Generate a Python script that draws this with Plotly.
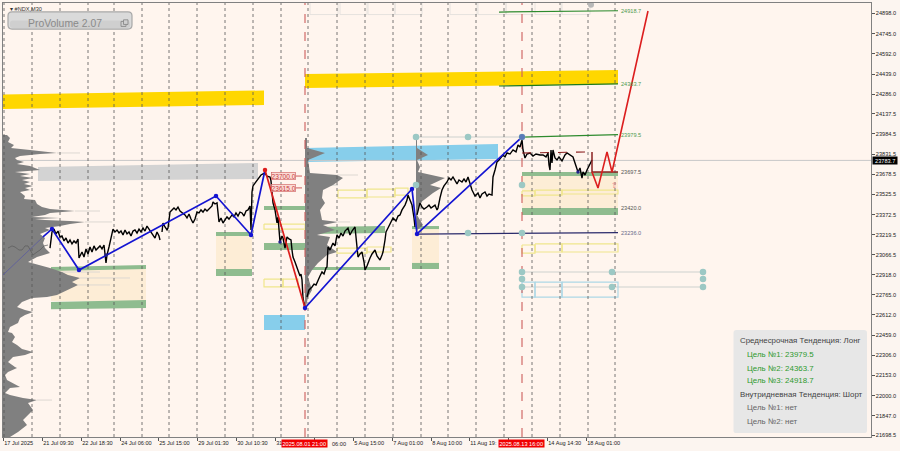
"""NDX M30 terminal chart with volume profiles, zones and target levels. x = position on the compressed bar axis."""
import plotly.graph_objects as go

BG = "#FFF5EE"
X_RANGE = [3, 871]
Y_RANGE = [21685.8, 24977.6]

Y_TICKS = [24898.0, 24745.0, 24592.0, 24439.0, 24286.0, 24137.5, 23984.5, 23831.5, 23678.5, 23525.5, 23372.5,
           23219.5, 23066.5, 22918.0, 22765.0, 22612.0, 22459.0, 22306.0, 22153.0, 22000.0, 21847.0, 21698.5]
X_TICKS = [3, 42, 81, 120, 158, 197, 236, 275, 314, 353, 392, 431, 469, 508, 547, 586]
# the flags hide the rest of "31 ...", "... 06:00", "11 Aug 19:..", and all of the 13 Aug label
X_LABELS = ["17 Jul 2025", "21 Jul 09:30", "22 Jul 18:30", "24 Jul 06:00", "25 Jul 15:00", "29 Jul 01:30",
            "30 Jul 10:30", "31", "", "5 Aug 15:00", "7 Aug 01:00", "8 Aug 10:00",
            "11 Aug 19:", "", "14 Aug 14:30", "18 Aug 01:00"]
GRID_X = [4, 32, 60, 88, 114, 142, 169, 197, 225, 253, 281, 308, 337, 365, 393, 421, 448, 476, 504, 532, 560, 588, 615]
SESSION_X = [305, 522]

# price line, four stretches
P1_X = [50, 52, 54, 56, 58, 60, 62, 64, 66, 68, 70, 72, 74, 76, 78, 79, 80, 82, 84, 86, 88, 90, 92, 94, 96, 98, 100,
        102, 104, 106, 107, 109, 111, 113, 115, 117, 119, 121, 123, 125, 127, 129, 131, 133, 135, 137, 139, 141, 143,
        145, 147, 149, 151, 153, 155, 157, 159, 160]
P1_Y = [23119, 23241, 23263, 23226, 23248, 23203, 23210, 23173, 23195, 23157, 23180, 23150, 23173, 23157, 23188, 23043,
        23059, 23089, 23051, 23112, 23074, 23127, 23089, 23135, 23104, 23119, 23135, 23112, 23142, 23006, 23066, 23127,
        23195, 23263, 23241, 23256, 23233, 23248, 23218, 23256, 23226, 23241, 23210, 23248, 23256, 23233, 23263, 23241,
        23271, 23248, 23286, 23263, 23241, 23218, 23195, 23241, 23210, 23180]
P2_X = [162, 163, 165, 167, 168, 170, 172, 174, 176, 178, 180, 182, 185, 187, 189, 191, 193, 195, 197, 199, 201, 203,
        205, 207, 210, 212, 213, 215, 217, 218, 219, 221, 223, 225, 227, 229, 232, 234, 236, 238, 240, 242, 244, 246,
        248, 250, 251, 252, 253, 255, 257, 259, 261, 263, 265, 267, 270, 271, 273, 275, 277, 278, 280, 282, 283, 285,
        287, 289, 291, 292, 293, 295, 297, 298, 300, 301, 302, 303, 305]
P2_Y = [23241, 23309, 23279, 23256, 23271, 23392, 23408, 23423, 23408, 23430, 23400, 23385, 23370, 23347, 23377, 23339,
        23309, 23339, 23392, 23385, 23408, 23392, 23415, 23400, 23423, 23438, 23468, 23453, 23461, 23408, 23317, 23347,
        23309, 23332, 23355, 23339, 23370, 23355, 23385, 23362, 23392, 23385, 23362, 23400, 23408, 23438, 23256, 23544,
        23590, 23612, 23635, 23658, 23673, 23681, 23688, 23665, 23658, 23628, 23461, 23408, 23309, 23355, 23165, 23210,
        23195, 23119, 23203, 23188, 23180, 23104, 23051, 23013, 22968, 22952, 22907, 22922, 22877, 22740, 22664]
P3_X = [307, 309, 312, 314, 316, 318, 320, 322, 324, 326, 327, 328, 330, 333, 335, 337, 339, 341, 343, 345, 348, 350,
        352, 355, 356, 357, 358, 360, 362, 364, 365, 367, 368, 370, 372, 375, 377, 380, 382, 383, 385, 386, 388, 390,
        393, 396, 398, 400, 402, 405, 407, 408, 410, 412, 414, 415]
P3_Y = [22748, 22801, 22824, 22846, 22839, 22877, 22907, 22937, 22922, 22968, 22975, 23127, 23104, 23157, 23135, 23218,
        23195, 23233, 23210, 23248, 23271, 23218, 23248, 23279, 23180, 23104, 23051, 23074, 23089, 23013, 22952, 22983,
        23006, 23043, 23074, 23104, 23059, 23028, 23066, 23089, 23180, 23241, 23271, 23301, 23347, 23324, 23362, 23370,
        23408, 23445, 23483, 23521, 23483, 23445, 23347, 23279]
P4_X = [417, 419, 420, 422, 424, 427, 429, 431, 433, 435, 437, 438, 440, 442, 444, 447, 449, 451, 453, 455, 457, 459,
        462, 464, 466, 468, 470, 472, 473, 475, 478, 480, 482, 485, 487, 489, 492, 493, 495, 497, 499, 501, 503, 505,
        507, 510, 513, 516, 518, 520, 522, 523, 525, 527, 530, 533, 536, 540, 543, 546, 548, 549, 550, 551, 552, 553,
        555, 557, 559, 562, 565, 567, 570, 573, 575, 577, 578, 580, 581, 582, 583, 585, 587, 590, 592]
P4_Y = [23370, 23445, 23461, 23430, 23415, 23430, 23445, 23423, 23438, 23445, 23408, 23423, 23499, 23559, 23590, 23620,
        23650, 23635, 23658, 23628, 23605, 23635, 23620, 23643, 23620, 23658, 23597, 23559, 23544, 23514, 23537, 23499,
        23529, 23544, 23514, 23529, 23521, 23658, 23711, 23772, 23787, 23802, 23825, 23810, 23840, 23832, 23863, 23848,
        23901, 23885, 23939, 23863, 23802, 23832, 23840, 23817, 23832, 23825, 23825, 23810, 23840, 23749, 23711, 23863,
        23764, 23863, 23802, 23787, 23810, 23779, 23825, 23840, 23825, 23810, 23764, 23711, 23696, 23726, 23665, 23650,
        23696, 23673, 23711, 23764, 23787]
EARLY_X = [8, 12, 15, 19, 22, 25, 28, 31, 33, 37, 40, 44, 48]
EARLY_Y = [23119, 23135, 23127, 23104, 23104, 23135, 23135, 23089, 23066, 23089, 23104, 23135, 23142]

# zigzag swings
ZIG_X = [43, 52, 79, 216, 251, 265]
ZIG_Y = [23203, 23264, 22952, 23514, 23218, 23711]
DROP_X = [265, 305]
DROP_Y = [23711, 22664]
ZIG2_X = [305, 412, 417, 522]
ZIG2_Y = [22664, 23567, 23226, 23961]
FAINT_X = [3, 43]
FAINT_Y = [22915, 23203]
PLAN_X = [592, 592, 618]
PLAN_Y = [23848, 23696, 23696]
PLAN_DASH_X = [522, 592]
PLAN_DASH_Y = [23840, 23848]
FORECAST_X = [592, 598, 607, 612, 648]
FORECAST_Y = [23696, 23574, 23848, 23696, 24917]

# volume profiles
VP1_LEVEL = [23976, 23954, 23923, 23901, 23878, 23863, 23848, 23840, 23832, 23817, 23802, 23787, 23772, 23757, 23741,
             23711, 23696, 23681, 23665, 23650, 23635, 23620, 23605, 23590, 23574, 23559, 23544, 23514, 23491, 23483,
             23453, 23430, 23415, 23400, 23385, 23370, 23355, 23347, 23339, 23332, 23324, 23317, 23301, 23286, 23271,
             23256, 23226, 23195, 23157, 23119, 23081, 23051, 23013, 22990, 22968, 22937, 22915, 22892, 22861, 22839,
             22801, 22763, 22748, 22740, 22710, 22672, 22649, 22634, 22611, 22588, 22550, 22520, 22482, 22475, 22444,
             22406, 22384, 22353, 22331, 22308, 22293, 22255, 22217, 22209, 22179, 22156, 22118, 22095, 22065, 22057,
             22020, 22004, 21982, 21966, 21944, 21891, 21853, 21815, 21777, 21724, 21686]
VP1_VOL = [4, 7, 5, 11, 8, 27, 47, 54, 37, 17, 12, 14, 21, 14, 27, 37, 12, 27, 17, 30, 19, 27, 21, 30, 22, 27, 17, 22,
           21, 32, 34, 39, 47, 72, 47, 42, 29, 57, 32, 42, 67, 82, 67, 57, 42, 47, 37, 42, 40, 42, 47, 34, 25, 37, 47,
           59, 65, 77, 69, 75, 64, 54, 44, 29, 19, 14, 22, 30, 22, 17, 15, 7, 5, 9, 12, 9, 14, 19, 30, 22, 10, 5, 12,
           14, 5, 2, 4, 10, 17, 7, 2, 7, 20, 34, 25, 30, 25, 20, 24, 15, 7]
VP2_LEVEL = [23954, 23878, 23840, 23787, 23688, 23673, 23650, 23597, 23559, 23499, 23461, 23408, 23332, 23317, 23294,
             23256, 23218, 23203, 23142, 23089, 23066, 23006, 22952, 22899, 22801, 22748, 22672]
VP2_VOL = [2, 2, 20, 3, 5, 32, 38, 28, 18, 17, 20, 15, 17, 33, 18, 30, 12, 25, 22, 32, 22, 13, 7, 3, 7, 3, 1]
VP3_LEVEL = [23961, 23878, 23825, 23787, 23734, 23696, 23650, 23597, 23574, 23537, 23461, 23370, 23294, 23256]
VP3_VOL = [1, 1, 12, 1, 4, 2, 29, 14, 25, 17, 4, 1, 7, 1]
# thin pale ends of the biggest profile rows: level, from, to
TIP_LEVEL = [23840, 23400, 23317, 22937, 22892, 22839, 21966, 23673, 23317]
TIP_FROM = [57, 75, 85, 62, 80, 78, 37, 337, 338]
TIP_TO = [80, 100, 112, 100, 130, 110, 52, 358, 350]

# zones: x0, x1, top at x0, top at x1, bottom at x0, bottom at x1
GOLD_ZONES = [(3, 264, 24284, 24314, 24173, 24204), (305, 618, 24439, 24469, 24333, 24363)]
GREY_ZONES = [(38, 258, 23734, 23764, 23627, 23643)]
BLUE_ZONES = [(305, 498, 23878, 23908, 23772, 23794), (264, 305, 22611, 22611, 22497, 22497)]
CREAM_ZONES = [(51, 146, 22960, 22960, 22717, 22717), (216, 252, 23211, 23211, 22960, 22960),
               (412, 439, 23263, 23263, 23006, 23006), (522, 618, 23665, 23665, 23423, 23423)]
GREEN_ZONES = [(51, 146, 22975, 22990, 22945, 22960), (51, 146, 22710, 22725, 22655, 22665),
               (216, 252, 23241, 23241, 23211, 23211), (216, 252, 22960, 22960, 22907, 22907),
               (264, 305, 23438, 23438, 23408, 23408), (264, 305, 23157, 23157, 23104, 23104),
               (308, 385, 23279, 23286, 23226, 23233), (308, 390, 22975, 22975, 22952, 22952),
               (412, 439, 23286, 23286, 23263, 23263), (412, 439, 23006, 23006, 22960, 22960),
               (522, 618, 23696, 23696, 23665, 23665), (522, 618, 23423, 23423, 23370, 23370)]
# outlined boxes: x0, x1, top, bottom
YELLOW_BOXES = [(264, 283, 22884, 22824), (283, 298, 22884, 22824), (264, 305, 23301, 23263), (338, 367, 23559, 23499),
                (367, 395, 23566, 23506), (395, 408, 23574, 23521), (337, 367, 23119, 23081), (367, 391, 23127, 23089),
                (522, 535, 23552, 23514), (535, 562, 23559, 23521), (562, 618, 23559, 23529), (522, 535, 23142, 23081),
                (535, 562, 23150, 23089), (562, 618, 23150, 23089)]
CYAN_BOXES = [(522, 535, 22861, 22747), (535, 562, 22861, 22747), (562, 618, 22861, 22747)]
GHOST_BOXES = [(310, 338, 25100, 24890), (340, 367, 25100, 24890), (368, 395, 25100, 24890), (395, 422, 25100, 24890),
               (450, 477, 25100, 24890), (478, 506, 25100, 24890), (506, 532, 25100, 24890), (535, 561, 25100, 24890),
               (562, 590, 25100, 24890)]
PALE_LINES = [(416, 522, 23961, 23961), (522, 703, 22937, 22937), (522, 703, 22824, 22824), (308, 338, 23597, 23597)]

# target levels: x0, x1, y0, y1, colour, text, label colour
TARGETS = [(499, 618, 24909, 24918.7, "#2E8B2E", "24918.7", "#4E9A4E"),
           (499, 618, 24348, 24363.7, "#1E7A1E", "24363.7", "#4E9A4E"),
           (522, 618, 23961, 23979.5, "#2E8B2E", "23979.5", "#4E9A4E"),
           (417, 618, 23225, 23236.0, "#2B2B6B", "23236.0", "#6A6A8A")]
PLAIN_LEVELS = [(23697.5, "23697.5"), (23420.0, "23420.0")]

ANCHOR_X = [416, 468, 522, 416, 522, 468, 522, 522, 522, 522, 612, 612, 703, 703, 703]
ANCHOR_Y = [23961, 23961, 23961, 23597, 23597, 23233, 23233, 22937, 22884, 22824, 22937, 22824, 22937, 22884, 22824]
SWING_DOT_X = [52, 79, 216, 251, 305, 412, 417]
SWING_DOT_Y = [23264, 22952, 23514, 23218, 22664, 23567, 23226]
PRICE_DOT_X = [106, 280, 578]
PRICE_DOT_Y = [23066, 23165, 23696]

PANEL_TEXT = ["Среднесрочная Тенденция: Лонг", "Цель №1: 23979.5", "Цель №2: 24363.7", "Цель №3: 24918.7",
              "Внутридневная Тенденция: Шорт", "Цель №1: нет", "Цель №2: нет"]
PANEL_COLOR = ["#444444", "#2E9A2E", "#2E9A2E", "#2E9A2E", "#444444", "#666666", "#666666"]
PANEL_X = [738, 745, 745, 745, 738, 745, 745]
PANEL_Y = [22414, 22312, 22209, 22111, 22008, 21906, 21803]

FONT = "Liberation Sans, Arial, sans-serif"
fig = go.Figure()


def line(x, y, color, width=1.0, dash="solid", opacity=1.0):
    fig.add_scatter(x=x, y=y, mode="lines", line=dict(color=color, width=width, dash=dash), opacity=opacity,
                    hoverinfo="skip", showlegend=False)


def zone(z, color):
    x0, x1, t0, t1, b0, b1 = z
    fig.add_scatter(x=[x0, x1, x1, x0, x0], y=[t0, t1, b1, b0, t0], mode="lines", fill="toself", fillcolor=color,
                    line=dict(width=0), hoverinfo="skip", showlegend=False)


def box(b, color, width=1.0):
    x0, x1, t, bot = b
    line([x0, x1, x1, x0, x0], [t, t, bot, bot, t], color, width)


def profile(base, levels, vols):
    fig.add_scatter(x=[base] + [base + v for v in vols] + [base], y=[levels[0]] + levels + [levels[-1]], mode="lines",
                    fill="toself", fillcolor="#808080", line=dict(width=0), hoverinfo="skip", showlegend=False)


for z in CREAM_ZONES:
    zone(z, "#FDEDD6")
for z in GOLD_ZONES:
    zone(z, "#FFD700")
for z in GREY_ZONES:
    zone(z, "#D3D3D3")
for z in BLUE_ZONES:
    zone(z, "#87CEEB")
for z in GREEN_ZONES:
    zone(z, "#8FBC8F")
for b in GHOST_BOXES:
    box(b, "#E6E2DE")
for x0, x1, y0, y1 in PALE_LINES:
    line([x0, x1], [y0, y1], "#DEDCD8", 1.5)
for b in YELLOW_BOXES:
    box(b, "#F0E68C", 1.2)
for b in CYAN_BOXES:
    box(b, "#ADD8E6", 1.2)

# current price line
line(X_RANGE, [23783.7, 23783.7], "#C8C8C8", 1)

for i in range(len(TIP_LEVEL)):
    line([TIP_FROM[i], TIP_TO[i]], [TIP_LEVEL[i], TIP_LEVEL[i]], "#DDD8D2", 1)
profile(3, VP1_LEVEL, VP1_VOL)
profile(305, VP2_LEVEL, VP2_VOL)
profile(416, VP3_LEVEL, VP3_VOL)

for gx in GRID_X:
    line([gx, gx], Y_RANGE, "#555555", 0.8, "dot")
for sx in SESSION_X:
    line([sx, sx], Y_RANGE, "#CD5C5C", 1.1, "dash")

line(EARLY_X, EARLY_Y, "#5A5A5A", 0.7)
for px, py in [(P1_X, P1_Y), (P2_X, P2_Y), (P3_X, P3_Y), (P4_X, P4_Y)]:
    line(px, py, "#000000", 1.4)

for x0, x1, y0, y1, c, _, _ in TARGETS:
    line([x0, x1], [y0, y1], c, 1.2)
line(FAINT_X, FAINT_Y, "#5A5AA0", 0.8)
line(ZIG_X, ZIG_Y, "#1414D2", 1.7)
line(ZIG2_X, ZIG2_Y, "#1414D2", 1.7)
line(DROP_X, DROP_Y, "#DC1E1E", 1.7)
line(PLAN_DASH_X, PLAN_DASH_Y, "#8B2020", 1.1, "dash")
line(PLAN_X, PLAN_Y, "#8B2020", 1.5)
line(FORECAST_X, FORECAST_Y, "#DC1E1E", 1.6)
line([296, 302], [23665, 23665], "#CD5C5C", 1)
line([296, 302], [23575, 23575], "#CD5C5C", 1)

fig.add_scatter(x=ANCHOR_X, y=ANCHOR_Y, mode="markers", marker=dict(color="#9CC8C4", size=6.5), hoverinfo="skip",
                showlegend=False)
fig.add_scatter(x=[591], y=[24965], mode="markers", marker=dict(color="#B8B8B8", size=6), hoverinfo="skip",
                showlegend=False)
fig.add_scatter(x=SWING_DOT_X, y=SWING_DOT_Y, mode="markers", marker=dict(color="#1414D2", size=4.5),
                hoverinfo="skip", showlegend=False)
fig.add_scatter(x=PRICE_DOT_X, y=PRICE_DOT_Y, mode="markers", marker=dict(color="#20208A", size=3.5),
                hoverinfo="skip", showlegend=False)
fig.add_scatter(x=[265], y=[23711], mode="markers", marker=dict(color="#DC1E1E", size=4.5), hoverinfo="skip",
                showlegend=False)
fig.add_scatter(x=[522], y=[23961], mode="markers", marker=dict(color="#5A7AB8", size=6), hoverinfo="skip",
                showlegend=False)

anns = []


def note(x, y, text, color="#333333", size=5.6, **kw):
    anns.append(dict(x=x, y=y, xref="x", yref="y", text=text, showarrow=False, xanchor="left", yanchor="middle",
                     font=dict(color=color, size=size, family=FONT), **kw))


for _, _, _, y1, _, t, c in TARGETS:
    note(619, y1, t, c)
for y, t in PLAIN_LEVELS:
    note(619, y, t, "#555555")
note(271, 23665, "23700.0", "#C84040", 6.6, bgcolor="#FBDCD6", bordercolor="#CD5C5C", borderwidth=0.6, borderpad=0)
note(271, 23575, "23615.0", "#C84040", 6.6, bgcolor="#FBDCD6", bordercolor="#CD5C5C", borderwidth=0.6, borderpad=0)
note(609, 23590, "⇧", "#F08080", 8)
note(8, 24935, "▾ #NDX,M30", "#333333", 5.6)

# red date flags on the time axis
for x, t in [(281, "2025.08.01 21:00"), (498, "2025.08.13 16:00")]:
    anns.append(dict(x=x, y=0, xref="x", yref="paper", yshift=-6.5, text=t, showarrow=False, xanchor="left",
                     yanchor="middle", bgcolor="#F00000", borderpad=0.5,
                     font=dict(color="#FFFFFF", size=5.6, family=FONT)))
anns.append(dict(x=330, y=0, xref="x", yref="paper", yshift=-6.5, text="06:00", showarrow=False, xanchor="left",
                 yanchor="middle", font=dict(color="#222222", size=5.6, family=FONT)))
# black tag of the last price
anns.append(dict(x=1, y=23783.7, xref="paper", yref="y", xshift=1, text=" 23783.7 ", showarrow=False, xanchor="left",
                 yanchor="middle", bgcolor="#000000", borderpad=0.5,
                 font=dict(color="#FFFFFF", size=5.6, family=FONT)))

for i in range(len(PANEL_TEXT)):
    note(PANEL_X[i], PANEL_Y[i], PANEL_TEXT[i], PANEL_COLOR[i], 7.9)

note(26, 24821, "ProVolume 2.07", "#8A8A8A", 10.4)


def rounded(x0, x1, y0, y1, rx, ry):
    return ("M%g,%g L%g,%g Q%g,%g %g,%g L%g,%g Q%g,%g %g,%g L%g,%g Q%g,%g %g,%g L%g,%g Q%g,%g %g,%g Z" % (
        x0 + rx, y1, x1 - rx, y1, x1, y1, x1, y1 - ry, x1, y0 + ry, x1, y0, x1 - rx, y0, x0 + rx, y0, x0, y0, x0,
        y0 + ry, x0, y1 - ry, x0, y1, x0 + rx, y1))


shapes = [
    dict(type="path", path=rounded(8, 132, 24780, 24910, 4, 30), xref="x", yref="y", layer="above",
         fillcolor="#DADADA", line=dict(color="#A8A8A8", width=1.2)),
    dict(type="path", path=rounded(10, 130, 24788, 24845, 3, 20), xref="x", yref="y", layer="above",
         fillcolor="#CFCFCF", line=dict(width=0)),
    dict(type="rect", x0=121, x1=126, y0=24800, y1=24838, xref="x", yref="y", layer="above", fillcolor="#CFCFCF",
         line=dict(color="#8A8A8A", width=0.9)),
    dict(type="rect", x0=123.5, x1=128, y0=24815, y1=24850, xref="x", yref="y", layer="above", fillcolor="#CFCFCF",
         line=dict(color="#8A8A8A", width=0.9)),
    dict(type="path", path=rounded(733.5, 867, 21716, 22497, 3, 20), xref="x", yref="y", layer="below",
         fillcolor="#E7E7E7", line=dict(width=0)),
]

fig.update_layout(
    width=900, height=451, margin=dict(l=3, r=29, t=3, b=14), paper_bgcolor="#FCF5F0", plot_bgcolor=BG,
    showlegend=False, hovermode=False, annotations=anns, shapes=shapes,
    font=dict(family=FONT, size=5.6, color="#222222"),
    xaxis=dict(range=X_RANGE, tickvals=X_TICKS, ticktext=X_LABELS, ticks="outside", ticklen=2.5, tickcolor="#555555",
               tickangle=0, ticklabelposition="outside right", showgrid=False, zeroline=False, showline=True,
               mirror=True, linecolor="#808080", linewidth=1.4, tickfont=dict(size=5.6, color="#222222")),
    yaxis=dict(range=Y_RANGE, side="right", tickvals=Y_TICKS, ticktext=["%.1f" % v for v in Y_TICKS], ticks="outside",
               ticklen=2.5, tickcolor="#555555", showgrid=False, zeroline=False, showline=True, mirror=True,
               linecolor="#808080", linewidth=1.4, tickfont=dict(size=5.6, color="#222222")),
)

fig.write_html("out.html", config={"displayModeBar": False},
               post_script="document.body.style.margin='0';document.documentElement.style.overflow='hidden';")
